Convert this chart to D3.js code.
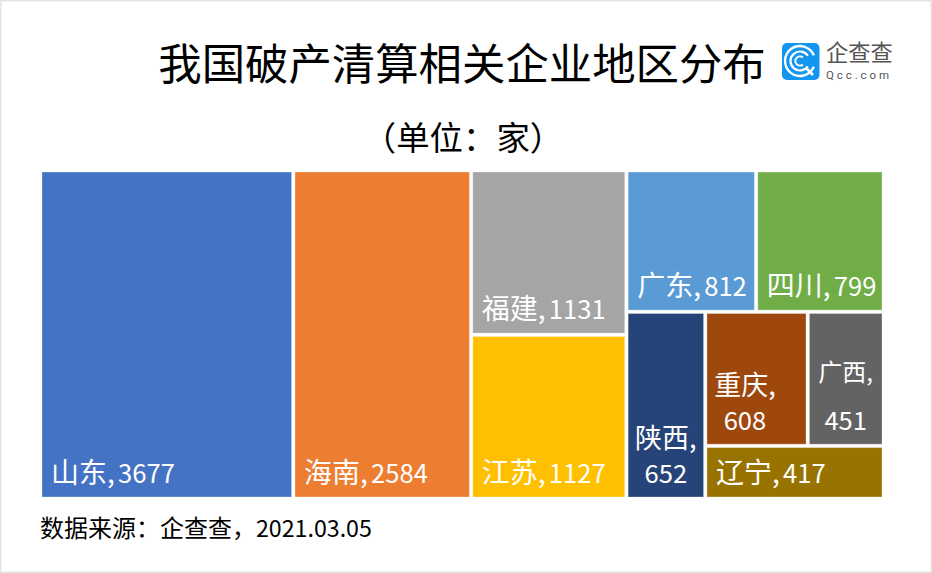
<!DOCTYPE html>
<html>
<head>
<meta charset="utf-8">
<script src="https://cdn.jsdelivr.net/npm/d3@7"></script>
<style>
html, body { margin: 0; padding: 0; background: #fff; }
svg { display: block; }
text { font-family: "Noto Sans CJK SC", "Noto Sans", sans-serif; }
</style>
</head>
<body>
<div id="container"></div>
<script>
const WIDTH = 932;
const HEIGHT = 573;

const TITLE = "我国破产清算相关企业地区分布";
const SUBTITLE = "（单位：家）";
const SOURCE = "数据来源：企查查，";
const SOURCE_DATE = "2021.03.05";

const REGIONS = ["山东", "海南", "福建", "江苏", "广东", "四川", "陕西", "重庆", "广西", "辽宁"];
const COUNTS = [3677, 2584, 1131, 1127, 812, 799, 652, 608, 451, 417];
const COLORS = ["#4472c4", "#ed7d31", "#a5a5a5", "#ffc000", "#5b9bd5",
    "#70ad47", "#264478", "#9e480e", "#636363", "#997300"];

var leaf = function (region) {
    return {name: region, value: COUNTS[REGIONS.indexOf(region)]};
};

// nesting follows how the cells are split up in the picture
var tree = {children: [
    leaf("山东"),
    leaf("海南"),
    {children: [leaf("福建"), leaf("江苏")]},
    {children: [
        {children: [leaf("广东"), leaf("四川")]},
        {children: [
            leaf("陕西"),
            {children: [
                {children: [leaf("重庆"), leaf("广西")]},
                leaf("辽宁")
            ]}
        ]}
    ]}
]};

var svg = d3.select("#container").append("svg")
    .attr("width", WIDTH)
    .attr("height", HEIGHT);

svg.append("rect")
    .attr("x", 0.75).attr("y", 0.75)
    .attr("width", WIDTH - 1.5).attr("height", HEIGHT - 1.5)
    .attr("fill", "#fff")
    .attr("stroke", "#e4e4e4")
    .attr("stroke-width", 1.5);

svg.append("text")
    .attr("x", 462).attr("y", 80)
    .attr("text-anchor", "middle")
    .attr("font-size", 43.4)
    .attr("fill", "#000")
    .text(TITLE);

svg.append("text")
    .attr("x", 463).attr("y", 150)
    .attr("text-anchor", "middle")
    .attr("font-size", 33.4)
    .attr("fill", "#000")
    .text(SUBTITLE);

var source = svg.append("text")
    .attr("x", 40).attr("y", 537)
    .attr("font-size", 24)
    .attr("fill", "#000")
    .text(SOURCE);
source.append("tspan")
    .attr("font-size", 23.2)
    .text(SOURCE_DATE);

var drawLogo = function () {
    var logo = svg.append("g").attr("transform", "translate(782,43)");
    logo.append("rect")
        .attr("width", 37.5).attr("height", 37)
        .attr("rx", 5)
        .attr("fill", "#1296f0");
    var arc = d3.arc();
    [[15, 2.4, 0.4, 5.9], [9.5, 2.2, 0.6, 5.7], [4.6, 2, 0.9, 5.4]].forEach(function (ring) {
        logo.append("path")
            .attr("transform", "translate(18,18)")
            .attr("fill", "#fff")
            .attr("d", arc({
                innerRadius: ring[0] - ring[1] / 2,
                outerRadius: ring[0] + ring[1] / 2,
                startAngle: Math.PI / 2 + ring[2],
                endAngle: Math.PI / 2 + ring[3]
            }));
    });
    logo.append("line")
        .attr("x1", 24).attr("y1", 25).attr("x2", 31).attr("y2", 32)
        .attr("stroke", "#fff").attr("stroke-width", 2.6);
    svg.append("text")
        .attr("x", 826).attr("y", 61)
        .attr("font-size", 22.3)
        .attr("fill", "#555")
        .text("企查查");
    svg.append("text")
        .attr("x", 826).attr("y", 78.5)
        .style("font-family", "Roboto")
        .attr("font-size", 11.5)
        .attr("letter-spacing", 2.9)
        .attr("fill", "#555")
        .text("Qcc.com");
};
drawLogo();

var root = d3.hierarchy(tree).sum(function (d) { return d.value; });

d3.treemap()
    .tile(d3.treemapSliceDice)
    .size([840, 325])
    .paddingInner(3.4)(root);

var cells = svg.selectAll(".cell")
    .data(root.leaves())
    .enter().append("g")
    .attr("class", "cell")
    .attr("transform", "translate(42,172)");

cells.append("rect")
    .attr("x", function (d) { return d.x0; })
    .attr("y", function (d) { return d.y0; })
    .attr("width", function (d) { return d.x1 - d.x0; })
    .attr("height", function (d) { return d.y1 - d.y0; })
    .attr("fill", function (d) { return COLORS[REGIONS.indexOf(d.data.name)]; })
    .attr("stroke", "rgba(255,255,255,0.3)")
    .attr("stroke-width", 1);

const NAME_SIZE = 28;
const NUMBER_SIZE = 25.6;
const LABEL_PAD = 9;

cells.each(function (d) {
    var cell = d3.select(this);
    var label = cell.append("text")
        .attr("font-size", NAME_SIZE)
        .attr("fill", "#fff")
        .attr("x", d.x0 + LABEL_PAD)
        .attr("y", d.y1 - 14)
        .text(d.data.name + ", ");
    label.append("tspan")
        .attr("dx", -3)
        .attr("font-size", NUMBER_SIZE)
        .text(d.value);
    if (label.node().getComputedTextLength() + LABEL_PAD < d.x1 - d.x0)
        return;

    // too wide for the cell: wrap onto two lines, centred under each other
    label.remove();
    var isLoose = d.data.name === "广西";
    var pitch = isLoose ? 49 : 35;
    var bottom = d.y1 - 14;
    var cx = d.x0 + (d.x1 - d.x0 < 80 ? (d.x1 - d.x0) / 2 : 38);
    cell.append("text")
        .attr("font-size", isLoose ? 24 : 27)
        .attr("fill", "#fff")
        .attr("text-anchor", "middle")
        .attr("x", cx).attr("y", bottom - pitch)
        .text(d.data.name + ",");
    cell.append("text")
        .attr("font-size", NUMBER_SIZE)
        .attr("fill", "#fff")
        .attr("text-anchor", "middle")
        .attr("x", cx).attr("y", bottom)
        .text(d.value);
});
</script>
</body>
</html>
